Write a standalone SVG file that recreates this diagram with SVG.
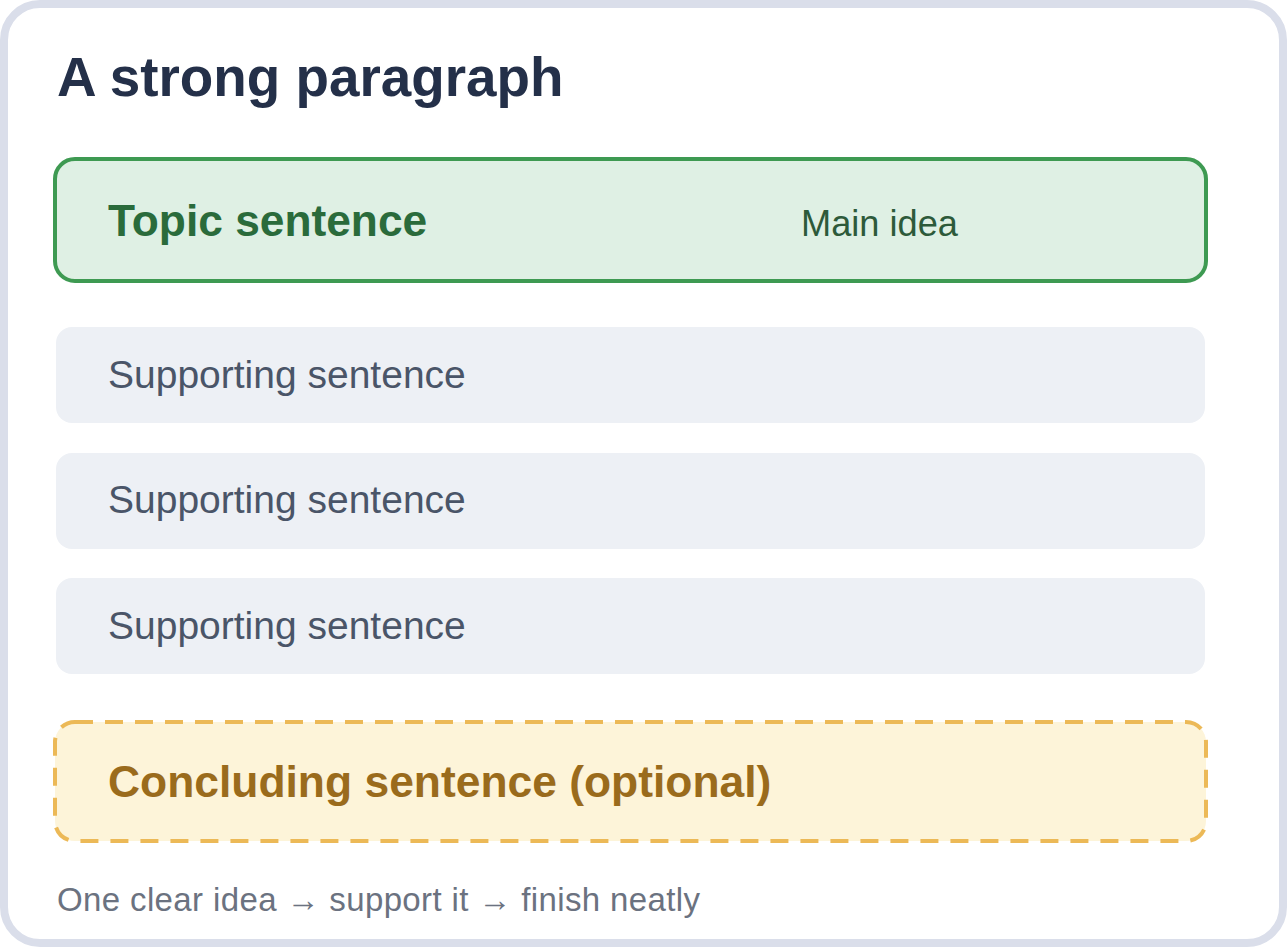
<svg xmlns="http://www.w3.org/2000/svg" width="1287" height="947" viewBox="0 0 1287 947">
<style>
.title{font-family:"Liberation Sans",Arial,sans-serif;font-weight:bold;font-size:54.8px;fill:#243049}
.topic{font-family:"Liberation Sans",Arial,sans-serif;font-weight:bold;font-size:44.3px;fill:#2a6b3b}
.main{font-family:"Liberation Sans",Arial,sans-serif;font-size:36.2px;fill:#2d5a3a}
.sup{font-family:"Liberation Sans",Arial,sans-serif;font-size:39px;fill:#4a5568}
.conc{font-family:"Liberation Sans",Arial,sans-serif;font-weight:bold;font-size:44.4px;fill:#9a6b1c}
.foot{font-family:"Liberation Sans",Arial,sans-serif;font-size:33px;fill:#6b7280}
.supbox{fill:#edf0f5}
</style>
<rect x="0" y="0" width="1287" height="947" fill="#ffffff"/>
<rect x="4" y="4" width="1279" height="939" rx="36" ry="36" fill="#ffffff" stroke="#dadeea" stroke-width="8"/>
<text class="title" x="57" y="96">A strong paragraph</text>
<g id="topic">
<rect x="55" y="159" width="1151" height="122" rx="20" ry="20" fill="#dff0e4" stroke="#3e9a52" stroke-width="4"/>
<text class="topic" x="108" y="236">Topic sentence</text>
<text class="main" x="801" y="236">Main idea</text>
</g>
<g id="support1">
<rect class="supbox" x="56" y="327" width="1149" height="96" rx="16" ry="16"/>
<text class="sup" x="108" y="388">Supporting sentence</text>
</g>
<g id="support2">
<rect class="supbox" x="56" y="453" width="1149" height="96" rx="16" ry="16"/>
<text class="sup" x="108" y="513">Supporting sentence</text>
</g>
<g id="support3">
<rect class="supbox" x="56" y="578" width="1149" height="96" rx="16" ry="16"/>
<text class="sup" x="108" y="639">Supporting sentence</text>
</g>
<g id="concluding">
<rect x="55" y="722" width="1151" height="119" rx="20" ry="20" fill="#fdf4d9" stroke="#ecb957" stroke-width="4" stroke-dasharray="18 12"/>
<text class="conc" x="108" y="797">Concluding sentence (optional)</text>
</g>
<g id="connectors"></g>
<text class="foot" x="57" y="911" textLength="643" lengthAdjust="spacing">One clear idea → support it → finish neatly</text>
</svg>
